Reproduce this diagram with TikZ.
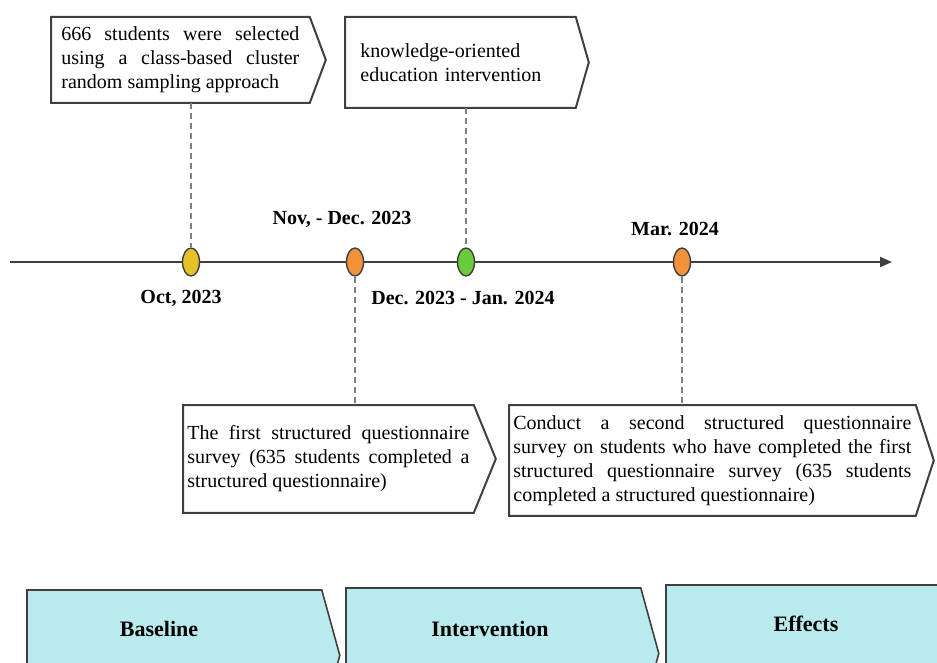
\documentclass[tikz,border=0pt]{standalone}
\usepackage{fontspec}
\setmainfont{Liberation Serif}
\usetikzlibrary{shapes.geometric,arrows.meta}

\definecolor{dotyellow}{HTML}{E6C229}
\definecolor{dotorange}{HTML}{F2923A}
\definecolor{dotgreen}{HTML}{6CCB3C}
\definecolor{stagefill}{HTML}{B9EBEE}
\definecolor{edgegray}{HTML}{3F3F3F}

\tikzset{
  notebox/.style={rectangle, anchor=north west, inner ysep=0pt,
    font=\fontsize{10}{12}\selectfont},
  stagebox/.style={rectangle, anchor=north west, minimum width=147pt,
    minimum height=65pt, inner sep=0pt},
  tldot/.style={ellipse, draw=edgegray, line width=0.7pt, minimum width=8.5pt,
    minimum height=14pt, inner sep=0pt},
  datelabel/.style={font=\bfseries\fontsize{10}{12}\selectfont},
  stagelabel/.style={font=\bfseries\fontsize{11}{13}\selectfont},
  guide/.style={draw=gray, line width=0.75pt, dash pattern=on 3pt off 2pt},
}

% outline with a pointed right side, drawn round a node
\newcommand{\chevron}[3][]{%
  \draw[#1] (#2.north west) -- (#2.north east) -- ([xshift=#3]#2.east)
    -- (#2.south east) -- (#2.south west) -- cycle;}

\begin{document}
\begin{tikzpicture}[x=0.5pt, y=-0.5pt]
  \useasboundingbox (0,0) rectangle (937,663);
  \clip (0,0) rectangle (937,663);

  %% Notes above the time line
  \node[notebox, text width=119pt, inner xsep=5pt, minimum height=42.5pt,
        align=justify] (sample) at (51,17)
    {666 students were selected\linebreak using a class-based cluster\linebreak random sampling approach};
  \node[notebox, text width=100pt, inner xsep=7.5pt, minimum height=45pt,
        align=left] (educate) at (345,17)
    {knowledge-oriented\\ education intervention};

  %% Notes below the time line
  \node[notebox, text width=141pt, inner xsep=2pt, minimum height=53.5pt,
        align=justify] (survey1) at (183,405)
    {The first structured questionnaire\linebreak survey (635 students completed a\linebreak structured questionnaire)};
  \node[notebox, text width=199pt, inner xsep=2pt, minimum height=55pt,
        align=justify] (survey2) at (509,405)
    {Conduct a second structured questionnaire\linebreak survey on students who have completed the first\linebreak structured questionnaire survey (635 students\linebreak completed a structured questionnaire)};

  \chevron[draw=edgegray, line width=1pt]{sample}{8pt}
  \chevron[draw=edgegray, line width=1pt]{educate}{6.5pt}
  \chevron[draw=edgegray, line width=1pt]{survey1}{11pt}
  \chevron[draw=edgegray, line width=1pt]{survey2}{9pt}

  %% Time line
  \coordinate (tl-start) at (10,262);
  \coordinate (tl-end) at (892,262);
  \draw[line width=1pt, edgegray, -{Triangle[length=6pt,width=5pt]}]
    (tl-start) -- (tl-end);

  \node[tldot, fill=dotyellow] (oct)  at (191,262) {};
  \node[tldot, fill=dotorange] (nov)  at (355,262) {};
  \node[tldot, fill=dotgreen]  (dec)  at (466,262) {};
  \node[tldot, fill=dotorange] (mar)  at (682,262) {};

  %% Dashed guides from notes to dates
  \draw[guide] (oct |- sample.south) -- (oct);
  \draw[guide] (dec |- educate.south) -- (dec);
  \draw[guide] (nov) -- (nov |- survey1.north);
  \draw[guide] (mar) -- (mar |- survey2.north);

  \node[datelabel] (oct-t) at (181,298) {Oct, 2023};
  \node[datelabel] (nov-t) at (342,219) {Nov, - Dec. 2023};
  \node[datelabel] (dec-t) at (463,298) {Dec. 2023 - Jan. 2024};
  \node[datelabel] (mar-t) at (675,229) {Mar. 2024};

  %% Stages along the bottom
  \node[stagebox] (base)   at (27,590)  {};
  \node[stagebox] (interv) at (346,588) {};
  \node[stagebox, minimum width=160pt] (effect) at (666,585) {};
  \foreach \s in {base,interv,effect}
    \chevron[fill=stagefill, draw=edgegray, line width=0.8pt]{\s}{9pt};

  \node[stagelabel] (base-t)   at (159,629) {Baseline};
  \node[stagelabel] (interv-t) at (490,629) {Intervention};
  \node[stagelabel] (effect-t) at (806,624) {Effects};
\end{tikzpicture}
\end{document}
